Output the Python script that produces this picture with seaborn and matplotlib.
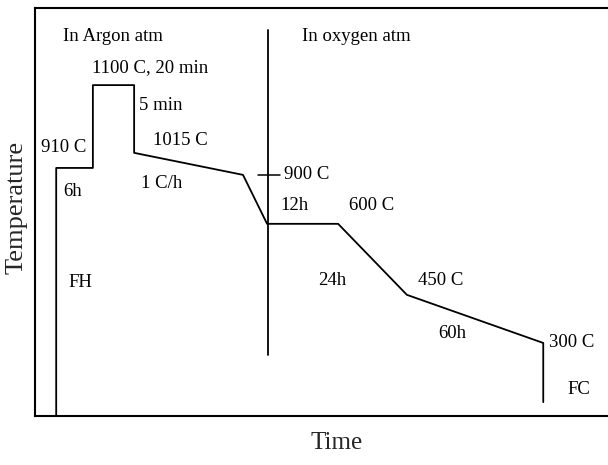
import matplotlib
matplotlib.use("Agg")
import matplotlib.pyplot as plt
import seaborn as sns
import pandas as pd

# Schematic heat-treatment schedule (time and level in arbitrary schematic units)
times = [3.7, 3.7, 10.1, 10.1, 17.3, 17.3, 36.3, 40.5, 52.9, 64.9, 88.7, 88.7]
levels = [0.0, 60.8, 60.8, 81.1, 81.1, 64.5, 59.1, 47.1, 47.1, 29.7, 17.9, 3.4]

# Boundary between argon and oxygen atmosphere
switch_time = 40.7
switch_span = [15.0, 94.6]
# Short marker at the 900 C point
marker_span = [38.9, 42.8]
marker_level = 59.1

# Annotations: text, time, level
labels = ["In Argon atm", "1100 C, 20 min", "5 min", "1015 C", "910 C", "6h",
          "1 C/h", "900 C", "12h", "600 C", "In oxygen atm", "FH", "24h",
          "450 C", "60h", "300 C", "FC"]
label_t = [4.9, 9.9, 18.2, 20.6, 1.0, 4.9, 18.5, 43.5, 42.9, 54.8, 46.6,
           5.8, 49.4, 66.8, 70.3, 89.7, 93.0]
label_l = [92.9, 85.3, 76.0, 67.6, 65.7, 55.1, 57.1, 59.1, 51.7, 51.5, 92.9,
           32.8, 33.3, 33.3, 20.3, 17.9, 6.4]

sns.set_style("white")
plt.rcParams["font.family"] = ["Liberation Serif", "DejaVu Serif"]

fig = plt.figure(figsize=(6.08, 4.65), dpi=100)
ax = fig.add_axes([35 / 608, 49 / 465, 573 / 608, 408 / 465])

schedule = pd.DataFrame({"time": times, "level": levels})
sns.lineplot(data=schedule, x="time", y="level", sort=False, estimator=None,
             color="black", linewidth=1.3, ax=ax)

ax.plot([switch_time, switch_time], switch_span, color="black", linewidth=1.3)
ax.plot(marker_span, [marker_level, marker_level], color="black", linewidth=1.1)

for txt, t, l in zip(labels, label_t, label_l):
    ax.text(t, l, txt, fontsize=13.5, ha="left", va="center", color="black")

ax.set_xlim(0, 100)
ax.set_ylim(0, 100)
ax.set_xticks([])
ax.set_yticks([])

for side in ["left", "top", "bottom"]:
    ax.spines[side].set_visible(True)
    ax.spines[side].set_color("black")
    ax.spines[side].set_linewidth(1.5)
ax.spines["right"].set_visible(False)

ax.set_xlabel("Time", fontsize=18)
ax.xaxis.label.set_va("center")
ax.xaxis.set_label_coords(0.527, -0.066)
ax.set_ylabel("Temperature", fontsize=19)
ax.yaxis.label.set_va("center")
ax.yaxis.set_label_coords(-0.033, 0.512)

fig.savefig("out.png", dpi=100)
